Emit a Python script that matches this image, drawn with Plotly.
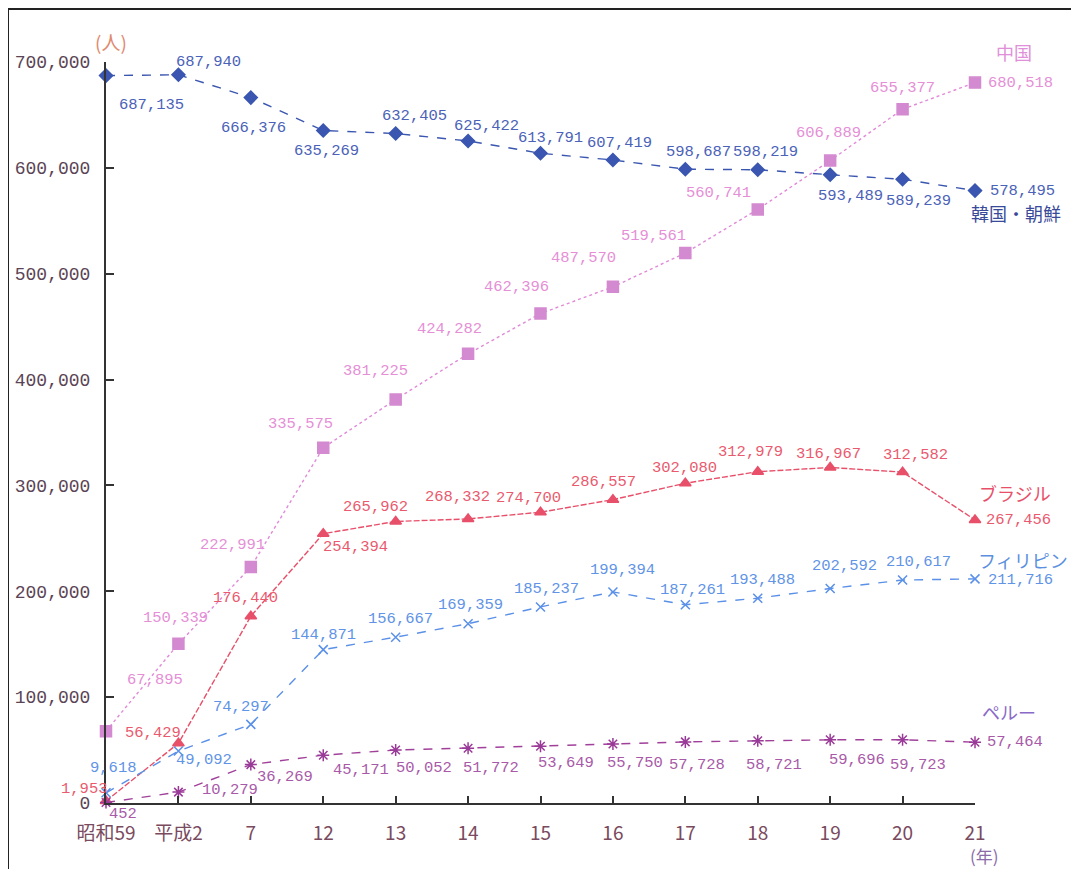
import plotly.graph_objects as go

years = ["昭和59", "平成2", "7", "12", "13", "14", "15", "16", "17", "18", "19", "20", "21"]

korea = [687135, 687940, 666376, 635269, 632405, 625422, 613791, 607419, 598687, 598219, 593489, 589239, 578495]
china = [67895, 150339, 222991, 335575, 381225, 424282, 462396, 487570, 519561, 560741, 606889, 655377, 680518]
brazil = [1953, 56429, 176440, 254394, 265962, 268332, 274700, 286557, 302080, 312979, 316967, 312582, 267456]
philippines = [9618, 49092, 74297, 144871, 156667, 169359, 185237, 199394, 187261, 193488, 202592, 210617, 211716]
peru = [452, 10279, 36269, 45171, 50052, 51772, 53649, 55750, 57728, 58721, 59696, 59723, 57464]

series_names = ["韓国・朝鮮", "中国", "ブラジル", "フィリピン", "ペルー"]
y_ticks = [0, 100000, 200000, 300000, 400000, 500000, 600000, 700000]

# label offsets (pixels, dx right, dy down) - styling only
korea_off = [(45, 29), (30, -13), (3, 30), (3, 20), (19, -18), (18, -15), (10, -15), (7, -17),
             (13, -17), (8, -18), (20, 21), (16, 22), (47, 0)]
china_off = [(49, -51), (-3, -26), (-18, -22), (-23, -24), (-20, -28), (-19, -25), (-24, -27),
             (-29, -29), (-32, -17), (-39, -16), (-2, -28), (0, -21), (45, 0)]
brazil_off = [(-22, -12), (-25, -10), (-5, -18), (32, 13), (-20, -14), (-11, -22), (-12, -14),
              (-9, -18), (-1, -15), (-7, -20), (-2, -13), (13, -17), (43, 0)]
phil_off = [(7, -25), (26, 9), (-10, -17), (0, -15), (5, -18), (2, -19), (6, -18), (10, -22),
            (7, -15), (5, -18), (14, -23), (16, -18), (45, 1)]
peru_off = [(17, 11), (52, -2), (34, 12), (38, 15), (28, 18), (23, 20), (25, 17), (22, 19),
            (12, 23), (16, 24), (27, 20), (15, 25), (40, 0)]

styles = [
    dict(data=korea, off=korea_off, line="#3a56b0", dash="dash", marker="diamond", msize=10, mcolor="#3a56b0", tcolor="#4a62b8"),
    dict(data=china, off=china_off, line="#e08ad8", dash="dot", marker="square", msize=11, mcolor="#d38ad0", tcolor="#e58fd6"),
    dict(data=brazil, off=brazil_off, line="#e8506a", dash="6px,2px", marker="triangle-up", msize=10, mcolor="#e8506a", tcolor="#ea5a6e"),
    dict(data=philippines, off=phil_off, line="#5a90e8", dash="dash", marker="x-thin-open", msize=9, mcolor="#5a90e8", tcolor="#5f94e6"),
    dict(data=peru, off=peru_off, line="#a0409a", dash="dash", marker="asterisk-open", msize=10, mcolor="#9a3a98", tcolor="#a85aa8"),
]

fig = go.Figure()
annotations = []
for name, st in zip(series_names, styles):
    fig.add_trace(go.Scatter(
        x=years, y=st["data"], mode="lines+markers", name=name,
        line=dict(color=st["line"], width=1.4, dash=st["dash"]),
        marker=dict(symbol=st["marker"], size=st["msize"], color=st["mcolor"],
                    line=dict(color=st["mcolor"], width=1.5)),
        showlegend=False, cliponaxis=False,
    ))
    for i, (yv, (dx, dy)) in enumerate(zip(st["data"], st["off"])):
        annotations.append(dict(
            x=i, y=yv, xref="x", yref="y", text=f"{yv:,}", showarrow=False,
            xshift=dx, yshift=-dy, xanchor="center", yanchor="middle",
            font=dict(family="Liberation Mono", size=15.5, color=st["tcolor"]),
        ))

# page pixel -> paper coords (page body has an 8px margin)
def px(xp):
    return (xp - 106) / 869

def py(yp):
    return (803 - yp) / 741

name_pos = [(1016, 213, "#3a4a9a"), (1014, 52, "#e090d8"), (1015, 493, "#e8506a"),
            (1023, 560, "#5b8fe0"), (1009, 712, "#8a6ac8")]
for name, (xp, yp, col) in zip(series_names, name_pos):
    annotations.append(dict(x=px(xp), y=py(yp), xref="paper", yref="paper", text=name,
                            xanchor="center", yanchor="middle", showarrow=False,
                            font=dict(family="Noto Sans CJK JP", size=18, color=col)))

annotations.append(dict(x=px(111), y=py(42), xref="paper", yref="paper", text="(人)",
                        xanchor="center", yanchor="middle", showarrow=False,
                        font=dict(family="Noto Sans CJK JP", size=19, color="#e08a70")))
annotations.append(dict(x=px(985), y=py(855), xref="paper", yref="paper", text="(年)",
                        xanchor="center", yanchor="middle", showarrow=False,
                        font=dict(family="Noto Sans CJK JP", size=17, color="#8a6aa8")))

fig.update_layout(
    width=1079, height=869,
    margin=dict(l=98, r=112, t=54, b=74),
    paper_bgcolor="white", plot_bgcolor="white",
    annotations=annotations,
    shapes=[dict(type="rect", xref="paper", yref="paper",
                 x0=px(8), x1=px(1075), y0=py(900), y1=py(9),
                 line=dict(color="#222", width=2), fillcolor="rgba(0,0,0,0)", layer="below")],
    xaxis=dict(type="category", range=[0, 12], showgrid=False, zeroline=False,
               automargin=False,
               showline=True, linecolor="#333", linewidth=2,
               ticks="inside", ticklen=7, tickwidth=2, tickcolor="#333",
               ticklabelstandoff=12,
               tickfont=dict(family="Noto Sans CJK JP", size=19, color="#7a4a5e")),
    yaxis=dict(range=[0, 700000], showgrid=False, zeroline=False,
               automargin=False,
               showline=True, linecolor="#333", linewidth=2,
               ticks="inside", ticklen=8, tickwidth=2, tickcolor="#333",
               tickvals=y_ticks, tickformat=",", ticklabelstandoff=10,
               tickfont=dict(family="Liberation Mono", size=18, color="#5b4455")),
)

fig.write_html("out.html")
